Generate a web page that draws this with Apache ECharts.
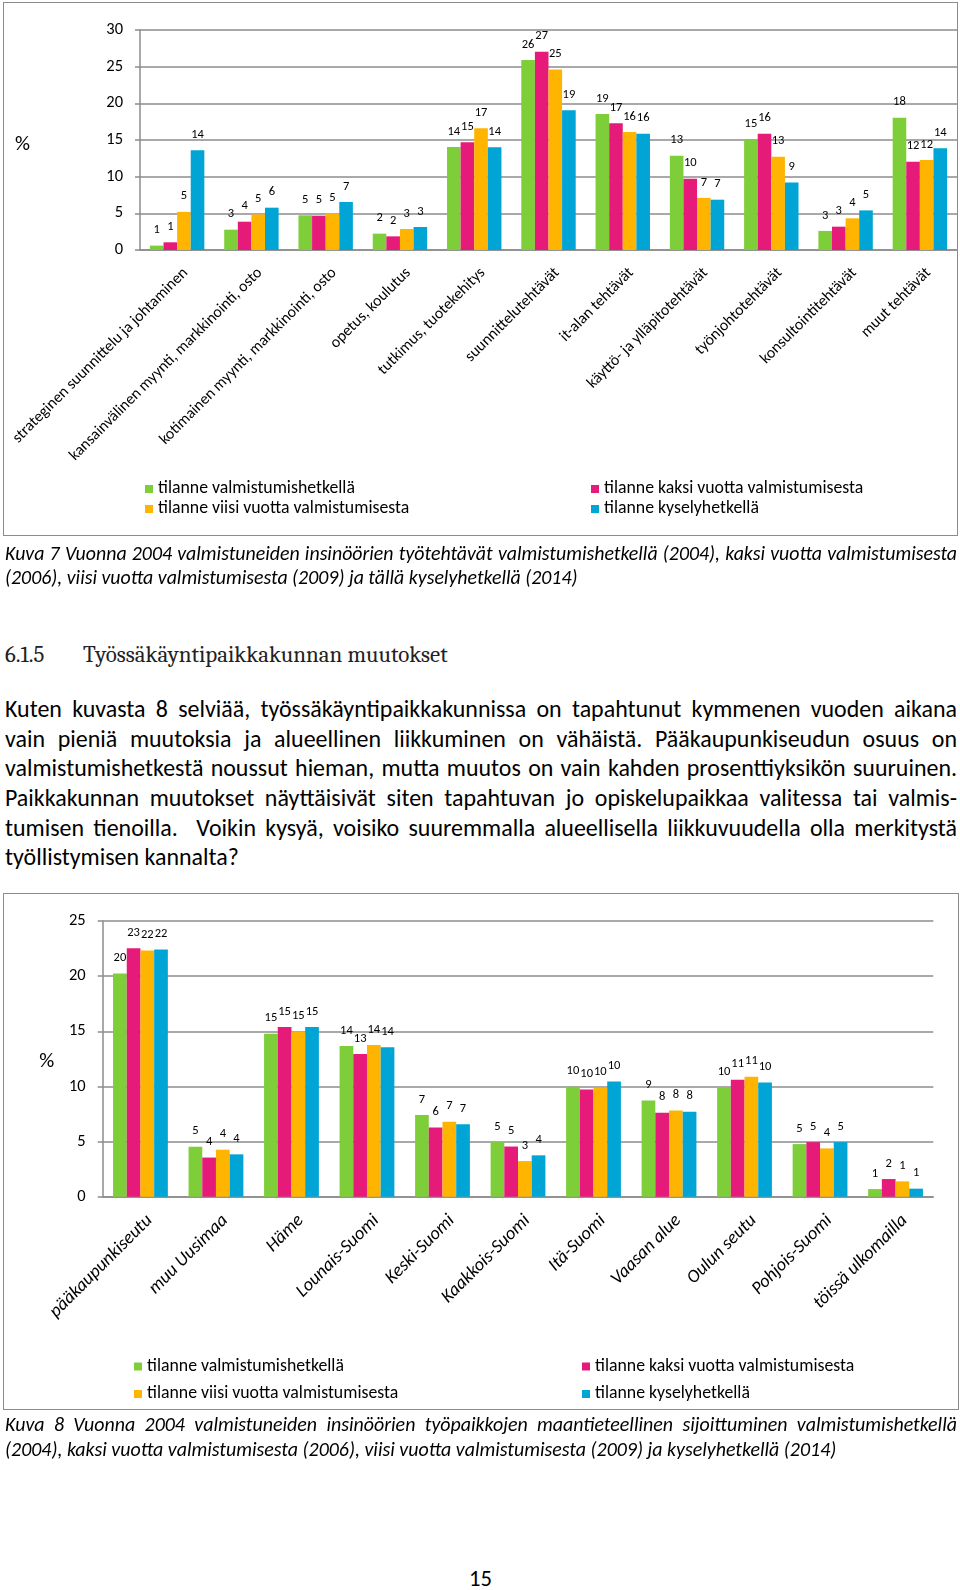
<!DOCTYPE html>
<html><head><meta charset="utf-8">
<script src="https://cdn.jsdelivr.net/npm/echarts@6/dist/echarts.min.js"></script>
<style>
html,body{margin:0;padding:0;background:#fff;}
body{width:960px;height:1590px;position:relative;overflow:hidden;}
.box{position:absolute;border:1.5px solid #8c8c8c;box-sizing:border-box;pointer-events:none;}
.chart{position:absolute;left:0;width:960px;}
.ln{position:absolute;white-space:pre;color:#000;transform-origin:0 50%;}
</style></head><body>
<div id="c1" class="chart" style="top:0;height:540px"></div>
<div id="c2" class="chart" style="top:880px;height:540px"></div>
<div class="box" style="left:3px;top:2px;width:955px;height:534px"></div>
<div class="box" style="left:3px;top:893px;width:956px;height:517px"></div>
<div id="txt"></div>
<script>
// ---------- data ----------
const seriesNames = ['tilanne valmistumishetkellä','tilanne kaksi vuotta valmistumisesta','tilanne viisi vuotta valmistumisesta','tilanne kyselyhetkellä'];
const cats1 = ['strateginen suunnittelu ja johtaminen','kansainvälinen myynti, markkinointi, osto','kotimainen myynti, markkinointi, osto','opetus, koulutus','tutkimus, tuotekehitys','suunnittelutehtävät','it-alan tehtävät','käyttö- ja ylläpitotehtävät','työnjohtotehtävät','konsultointitehtävät','muut tehtävät'];
const valmistuminen1 = [0.6, 2.77, 4.73, 2.23, 14.05, 25.9, 18.55, 12.86, 15.1, 2.6, 18.05];
const kaksiVuotta1   = [1.05, 3.86, 4.68, 1.86, 14.7, 27.05, 17.3, 9.7, 15.86, 3.18, 12.05];
const viisiVuotta1   = [5.2, 4.86, 5.0, 2.86, 16.6, 24.6, 16.1, 7.1, 12.7, 4.32, 12.27];
const kysely1        = [13.6, 5.77, 6.55, 3.14, 14.0, 19.05, 15.86, 6.86, 9.2, 5.4, 13.86];
const yMax1 = 30;

const cats2 = ['pääkaupunkiseutu','muu Uusimaa','Häme','Lounais-Suomi','Keski-Suomi','Kaakkois-Suomi','Itä-Suomi','Vaasan alue','Oulun seutu','Pohjois-Suomi','töissä ulkomailla'];
const valmistuminen2 = [20.24, 4.53, 14.77, 13.66, 7.4, 4.95, 9.97, 8.73, 9.88, 4.77, 0.69];
const kaksiVuotta2   = [22.54, 3.55, 15.38, 12.93, 6.28, 4.55, 9.73, 7.61, 10.6, 4.95, 1.6];
const viisiVuotta2   = [22.33, 4.26, 14.95, 13.75, 6.8, 3.23, 9.88, 7.82, 10.88, 4.38, 1.39];
const kysely2        = [22.42, 3.84, 15.38, 13.56, 6.56, 3.75, 10.45, 7.7, 10.36, 4.95, 0.73];
const yMax2 = 25;

const COLORS = ['#7ECE3A','#E61A78','#FFB400','#00A5D6'];
const F = "Carlito, Lato, 'Open Sans', sans-serif";
const SERIF = "Caladea, 'Liberation Serif', serif";

// ---------- font fitting ----------
const mctx = document.createElement('canvas').getContext('2d');
function measure(text, size, family, style){ mctx.font = (style||'normal') + ' ' + size + 'px ' + family; return mctx.measureText(text).width; }
function fitSize(text, target, family, style){ return 100 * target / measure(text, 100, family, style); }

const fsLegend = fitSize('tilanne valmistumishetkellä', 197, F);
const fsX1 = fitSize('strateginen suunnittelu ja johtaminen', 241, F);
const fsX2 = fitSize('pääkaupunkiseutu', 137, F, 'italic');
const fsY = fitSize('30', 16.7, F);
const fsData = fitSize('20', 12.7, F);
const fsPct = fitSize('%', 15, F);

function makeOption(cfg){
  const gray = '#8c8c8c';
  return {
    animation:false,
    color: COLORS,
    textStyle:{fontFamily:F},
    grid:{left:cfg.gl, top:cfg.gt, width:cfg.gw, height:cfg.gh, containLabel:false},
    xAxis:{type:'category', data:cfg.cats,
      axisLine:{lineStyle:{color:gray, width:1.5}},
      axisTick:{length:5, lineStyle:{color:gray, width:1.5}},
      axisLabel:{rotate:45, interval:0, margin:12, align:'right', verticalAlign:'top', padding:[4,0,0,0],
        fontSize:cfg.xfs, fontStyle:cfg.xstyle, fontFamily:F, color:'#000'}},
    yAxis:{type:'value', min:0, max:cfg.ymax, interval:5,
      axisLine:{show:true, lineStyle:{color:gray, width:1.5}},
      axisTick:{show:true, length:5, lineStyle:{color:gray, width:1.5}},
      splitLine:{lineStyle:{color:gray, width:1.5}},
      axisLabel:{fontSize:fsY, fontFamily:F, color:'#000', margin:17}},
    legend:[
      {data:[seriesNames[0], seriesNames[2]], orient:'vertical', left:cfg.lg1, top:cfg.lgTop, padding:0, itemGap:cfg.lgGap,
       itemWidth:8, itemHeight:8, icon:'rect', selectedMode:false, textStyle:{fontSize:fsLegend, fontFamily:F, color:'#000', lineHeight:20}},
      {data:[seriesNames[1], seriesNames[3]], orient:'vertical', left:cfg.lg2, top:cfg.lgTop, padding:0, itemGap:cfg.lgGap,
       itemWidth:8, itemHeight:8, icon:'rect', selectedMode:false, textStyle:{fontSize:fsLegend, fontFamily:F, color:'#000', lineHeight:20}}
    ],
    graphic:[{type:'text', x:cfg.pctX, y:cfg.pctY, style:{text:'%', fontSize:fsPct, fontFamily:F, fill:'#000', align:'center', verticalAlign:'middle'}}],
    series: cfg.data.map((d,i)=>({type:'bar', name:seriesNames[i], data:d, barWidth:cfg.bw, barGap:'0%',
      label:{show:true, position:'top', distance:9, formatter:p=>Math.round(p.value), fontSize:fsData, fontFamily:F, color:'#000'}}))
  };
}

echarts.init(document.getElementById('c1')).setOption(makeOption({
  gl:140, gt:30, gw:817, gh:220, cats:cats1, ymax:yMax1, xfs:fsX1, xstyle:'normal',
  lg1:145, lg2:591, lgTop:479, lgGap:0, pctX:22.5, pctY:145, bw:13.6,
  data:[valmistuminen1, kaksiVuotta1, viisiVuotta1, kysely1]
}));
echarts.init(document.getElementById('c2')).setOption(makeOption({
  gl:102.7, gt:41, gw:830.6, gh:275.7, cats:cats2, ymax:yMax2, xfs:fsX2, xstyle:'italic',
  lg1:134, lg2:582, lgTop:476.5, lgGap:7.5, pctX:46.7, pctY:181.5, bw:13.7,
  data:[valmistuminen2, kaksiVuotta2, viisiVuotta2, kysely2]
}));

// ---------- page text ----------
const FULLW = 952;
const blocks = [
  {family:F, style:'italic', fit:['(2006), viisi vuotta valmistumisesta (2009) ja tällä kyselyhetkellä (2014)', 573], lh:24, lines:[
    ['Kuva 7 Vuonna 2004 valmistuneiden insinöörien työtehtävät valmistumishetkellä (2004), kaksi vuotta valmistumisesta', 5, 552.5, true],
    ['(2006), viisi vuotta valmistumisesta (2009) ja tällä kyselyhetkellä (2014)', 5, 577, false]]},
  {family:SERIF, style:'normal', fit:['Työssäkäyntipaikkakunnan muutokset', 365], lh:26, color:'#222', lines:[
    ['6.1.5', 5, 655, false],
    ['Työssäkäyntipaikkakunnan muutokset', 83, 655, false]]},
  {family:F, style:'normal', fit:['työllistymisen kannalta?', 234], lh:29, lines:[
    ['Kuten kuvasta 8 selviää, työssäkäyntipaikkakunnissa on tapahtunut kymmenen vuoden aikana', 5, 708.6, true],
    ['vain pieniä muutoksia ja alueellinen liikkuminen on vähäistä. Pääkaupunkiseudun osuus on', 5, 738.2, true],
    ['valmistumishetkestä noussut hieman, mutta muutos on vain kahden prosenttiyksikön suuruinen.', 5, 767.8, true],
    ['Paikkakunnan muutokset näyttäisivät siten tapahtuvan jo opiskelupaikkaa valitessa tai valmis-', 5, 797.4, true],
    ['tumisen tienoilla.  Voikin kysyä, voisiko suuremmalla alueellisella liikkuvuudella olla merkitystä', 5, 827, true],
    ['työllistymisen kannalta?', 5, 856.6, false]]},
  {family:F, style:'italic', fit:['(2004), kaksi vuotta valmistumisesta (2006), viisi vuotta valmistumisesta (2009) ja kyselyhetkellä (2014)', 832], lh:24, lines:[
    ['Kuva 8 Vuonna 2004 valmistuneiden insinöörien työpaikkojen maantieteellinen sijoittuminen valmistumishetkellä', 5, 1424, true],
    ['(2004), kaksi vuotta valmistumisesta (2006), viisi vuotta valmistumisesta (2009) ja kyselyhetkellä (2014)', 5, 1448.6, false]]},
  {family:F, style:'normal', fit:['15', 23], lh:26, lines:[['15', 469, 1578, false]]}
];
const host = document.getElementById('txt');
blocks.forEach(b=>{
  const size = fitSize(b.fit[0], b.fit[1], b.family, b.style);
  b.lines.forEach(([text, x, cy, just])=>{
    const d = document.createElement('div');
    d.className = 'ln';
    d.textContent = text;
    d.style.left = x + 'px';
    d.style.top = (cy - b.lh/2) + 'px';
    d.style.lineHeight = b.lh + 'px';
    d.style.height = b.lh + 'px';
    d.style.fontSize = size + 'px';
    d.style.fontFamily = b.family;
    d.style.fontStyle = b.style;
    if (b.color) d.style.color = b.color;
    if (just){
      const w = measure(text, size, b.family, b.style);
      const spaces = (text.match(/ /g)||[]).length;
      const extra = FULLW - w;
      if (extra >= -spaces*1.5) d.style.wordSpacing = (extra/spaces) + 'px';
      else d.style.transform = 'scaleX(' + (FULLW/w) + ')';
    }
    host.appendChild(d);
  });
});
</script>
</body></html>
